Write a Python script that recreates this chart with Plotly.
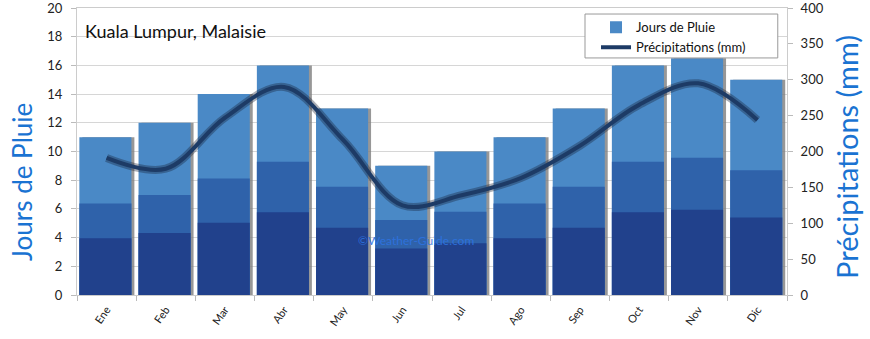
import plotly.graph_objects as go

months = ["Ene", "Feb", "Mar", "Abr", "May", "Jun", "Jul", "Ago", "Sep", "Oct", "Nov", "Dic"]
rain_days = [11, 12, 14, 16, 13, 9, 10, 11, 13, 16, 16.5, 15]
precip_mm = [191, 176, 247, 290, 216, 125, 139, 163, 208, 265, 295, 244]

FONT = "Lato"
BLUE_TITLE = "#1a73d2"

fig = go.Figure()

# bar shadow
fig.add_trace(go.Bar(x=months, y=rain_days, width=0.88, offset=-0.41,
                     marker=dict(color="rgba(125,125,125,0.8)", line_width=0),
                     showlegend=False, hoverinfo="skip"))
# main bar (light top)
fig.add_trace(go.Bar(x=months, y=rain_days, name="Jours de Pluie", width=0.88, offset=-0.46,
                     marker=dict(color="#4a89c6", line_width=0)))
# gradient bands
fig.add_trace(go.Bar(x=months, y=[v * 0.58 for v in rain_days], width=0.88, offset=-0.46,
                     marker=dict(color="#2f62aa", line_width=0), showlegend=False, hoverinfo="skip"))
fig.add_trace(go.Bar(x=months, y=[v * 0.36 for v in rain_days], width=0.88, offset=-0.46,
                     marker=dict(color="#21418c", line_width=0), showlegend=False, hoverinfo="skip"))

# line shadow
fig.add_trace(go.Scatter(x=months, y=precip_mm, yaxis="y2", mode="lines",
                         line=dict(color="rgba(20,30,50,0.35)", width=8, shape="spline", smoothing=1.0),
                         showlegend=False, hoverinfo="skip"))
fig.add_trace(go.Scatter(x=months, y=precip_mm, yaxis="y2", mode="lines", name="Précipitations (mm)",
                         line=dict(color="#1d3b66", width=4, shape="spline", smoothing=1.0)))

fig.update_layout(
    width=870, height=339,
    margin=dict(l=77, r=83, t=8, b=44),
    paper_bgcolor="white", plot_bgcolor="white",
    barmode="overlay", bargap=0.1,
    font=dict(family=FONT, color="#222", size=12),
    xaxis=dict(tickangle=-55, tickfont=dict(size=11), showgrid=False, automargin=False,
               ticks="outside", ticklen=5, tickcolor="#bbb", tickson="boundaries",
               ticklabelstandoff=3,
               showline=True, linecolor="#ccc", mirror=True, range=[-0.5, 11.5]),
    yaxis=dict(range=[0, 20], tickvals=list(range(0, 21, 2)), showgrid=True, gridcolor="#d6d6d6",
               ticks="outside", ticklen=5, tickcolor="#bbb", tickfont=dict(size=13),
               ticklabeloverflow="allow", automargin=False, ticklabelstandoff=6,
               zeroline=False, showline=True, linecolor="#ccc"),
    yaxis2=dict(range=[0, 400], tickvals=list(range(0, 401, 50)), overlaying="y", side="right", showgrid=False,
                ticks="outside", ticklen=5, tickcolor="#bbb", tickfont=dict(size=13),
                ticklabeloverflow="allow", automargin=False, ticklabelstandoff=5,
                zeroline=False, showline=True, linecolor="#ccc"),
    legend=dict(x=0.731, y=0.985, xanchor="left", yanchor="top", bgcolor="rgba(0,0,0,0)",
                borderwidth=0, font=dict(size=13, color="#111"),
                traceorder="normal", itemwidth=30),
    showlegend=True,
)

# legend frame
fig.add_shape(type="rect", xref="paper", yref="paper", x0=0.7155, x1=0.987, y0=0.826, y1=0.979,
              fillcolor="white", line=dict(color="#999", width=1), layer="above")

fig.add_annotation(text="Jours de Pluie", xref="paper", yref="paper", x=-0.0775, y=0.394,
                   textangle=-90, xanchor="center", yanchor="middle", showarrow=False,
                   font=dict(size=26, color=BLUE_TITLE))
fig.add_annotation(text="Précipitations (mm)", xref="paper", yref="paper", x=1.0845, y=0.481,
                   textangle=-90, xanchor="center", yanchor="middle", showarrow=False,
                   font=dict(size=29, color=BLUE_TITLE))
fig.add_annotation(text="Kuala Lumpur, Malaisie", xref="paper", yref="paper", x=0.008, y=0.965,
                   xanchor="left", yanchor="top", showarrow=False, font=dict(size=18, color="#111"))
fig.add_annotation(text="©Weather-Guide.com", xref="paper", yref="paper", x=0.477, y=0.19,
                   xanchor="center", yanchor="middle", showarrow=False,
                   font=dict(size=12, color="rgba(45,115,225,0.9)"))

fig.write_html("out.html")
